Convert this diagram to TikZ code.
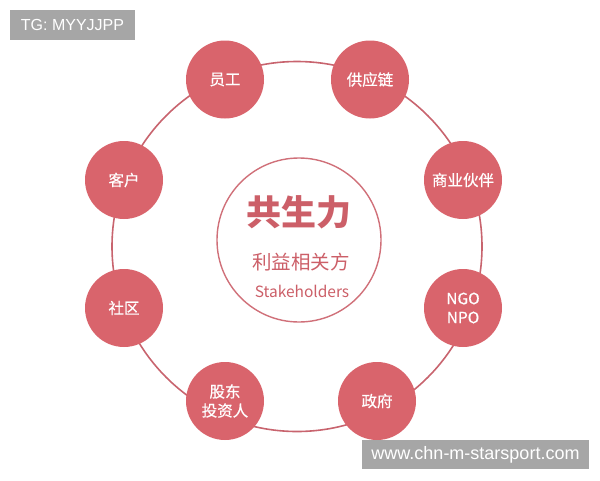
\documentclass[tikz,border=0pt]{standalone}
\usepackage{xcolor}
\usepackage{fontspec}
\newfontfamily\cjk{Noto Sans CJK SC}
\newfontfamily\cjkheavy[FakeBold=0.6]{Noto Sans CJK SC}
\newfontfamily\tagfont{Liberation Sans}
\usepackage{tikz}

\definecolor{rosefill}{HTML}{D9646C}
\definecolor{ringline}{HTML}{C8646E}
\definecolor{hubline}{HTML}{D07079}
\definecolor{hubtext}{HTML}{CC5F68}
\definecolor{tagbg}{HTML}{A6A6A6}

\begin{document}
\begin{tikzpicture}[x=1pt,y=-1pt]
			\tikzstyle{party} = [circle, fill=rosefill, minimum size=78pt, inner sep=0pt, text=white, align=center, font=\cjkheavy\fontsize{15.5}{19}\selectfont]
			\tikzstyle{hub} = [circle, draw=hubline, line width=1.4pt, fill=white, minimum size=164pt, inner sep=0pt]
			\tikzstyle{tag} = [fill=tagbg, text=white, inner sep=0pt]
			\tikzset{ring/.style = {draw=ringline, line width=1.6pt}}
			
			\useasboundingbox (0,0) rectangle (600,480);
			
			\node[circle, ring, minimum size=370pt, inner sep=0pt](orbit) at (297,246.5) {};
			
			\node[hub](core) at (299,240) {};
			\node[text=hubtext, font=\cjk\bfseries\fontsize{35}{40}\selectfont](title) at (299,212) {共生力};
			\node[text=hubtext, font=\cjk\fontsize{19.5}{22}\selectfont](subtitle) at (301,262) {利益相关方};
			\node[text=hubtext, font=\cjk\fontsize{15.5}{18}\selectfont](english) at (302,291) {Stakeholders};
			
			\node[party](staff) at (225,79.5) {员工};
			\node[party](supply) at (370,79.5) {供应链};
			\node[party](partner) at (463,180) {商业伙伴};
			\node[party](ngo) at (463,308) {NGO\\NPO};
			\node[party](gov) at (377,401) {政府};
			\node[party](holder) at (225,401) {股东\\投资人};
			\node[party](community) at (124,308) {社区};
			\node[party](client) at (124,180) {客户};
			
			\node[tag, minimum width=125pt, minimum height=30pt, font=\tagfont\fontsize{16}{18}\selectfont](tg) at (72.5,25) {TG: MYYJJPP};
			\node[tag, minimum width=227pt, minimum height=29pt, font=\tagfont\fontsize{18}{20}\selectfont](site) at (475.5,454.5) {www.chn-m-starsport.com};
			
			\end{tikzpicture}
\end{document}
